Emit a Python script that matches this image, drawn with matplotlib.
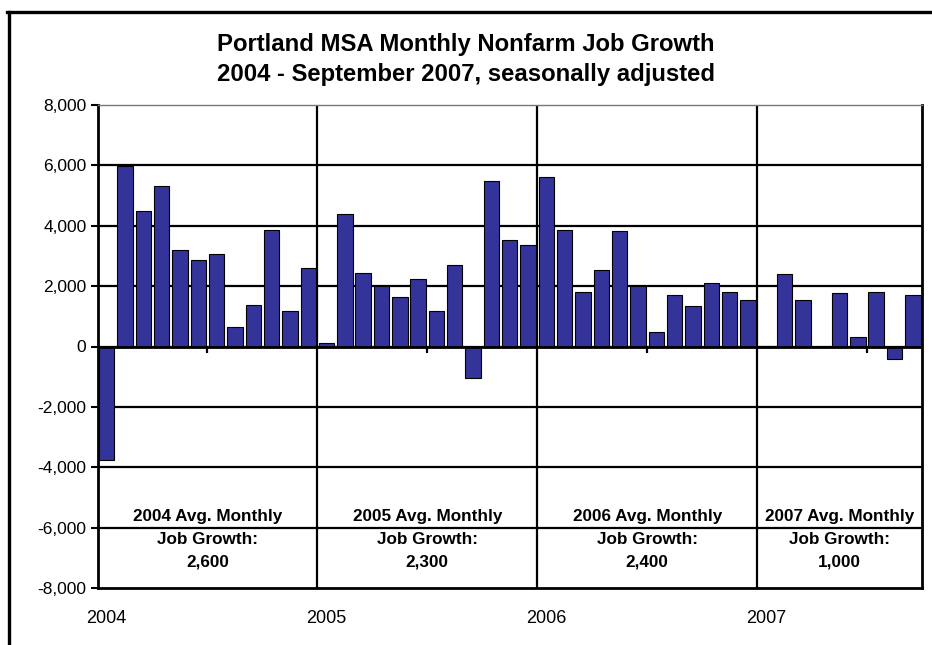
import matplotlib
matplotlib.use("Agg")
import matplotlib.pyplot as plt
from matplotlib.lines import Line2D
import numpy as np

plt.rcParams['font.family'] = ['Liberation Sans', 'DejaVu Sans']

years = ["2004", "2005", "2006", "2007"]
growth_2004 = [-3770, 5990, 4490, 5330, 3190, 2860, 3060, 650, 1390, 3860, 1190, 2590]
growth_2005 = [120, 4390, 2440, 2000, 1640, 2230, 1180, 2710, -1040, 5490, 3530, 3360]
growth_2006 = [5600, 3850, 1820, 2520, 3810, 2010, 490, 1700, 1330, 2120, 1810, 1530]
growth_2007 = [30, 2400, 1540, 0, 1770, 300, 1810, -420, 1710]
avg_labels = ["2,600", "2,300", "2,400", "1,000"]
yticks = [-8000, -6000, -4000, -2000, 0, 2000, 4000, 6000, 8000]

series = [growth_2004, growth_2005, growth_2006, growth_2007]
values = [v for s in series for v in s]
n = len(values)
x = np.arange(n)

fig = plt.figure(figsize=(9.32, 6.45), dpi=100)
ax = fig.add_axes([97.5/932, 1 - 588/645, (922 - 97.5)/932, (588 - 105)/645])

ax.set_xlim(-0.5, n - 0.5)
ax.set_ylim(-8000, 8000)

# gridlines
for yv in yticks[1:-1]:
    ax.axhline(yv, color='black', lw=1.6, zorder=1)

# year boundaries
starts = np.cumsum([0] + [len(s) for s in series])
for b in starts[1:-1]:
    ax.axvline(b - 0.5, color='black', lw=1.6, zorder=1)

ax.bar(x, values, width=0.84, color='#333399', edgecolor='black', linewidth=0.8, zorder=3)
ax.axhline(0, color='black', lw=2, zorder=4)

# small tick marks on the zero line at mid-year
for s0 in starts[:-1]:
    mid = s0 + 5.5
    if mid < n:
        ax.plot([mid, mid], [0, -200], color='black', lw=1.6, zorder=4, solid_capstyle='butt')

# table text
for i, (yr, lab) in enumerate(zip(years, avg_labels)):
    cx = (starts[i] - 0.5 + starts[i + 1] - 0.5) / 2
    ax.text(cx, -5620, f"{yr} Avg. Monthly", ha='center', va='center', fontsize=12.3, fontweight='bold', zorder=5)
    ax.text(cx, -6400, "Job Growth:", ha='center', va='center', fontsize=12.3, fontweight='bold', zorder=5)
    ax.text(cx, -7130, lab, ha='center', va='center', fontsize=12.3, fontweight='bold', zorder=5)

ax.set_yticks(yticks)
ax.set_yticklabels([f"{v:,}" for v in yticks], fontsize=12.5)
ax.tick_params(axis='y', direction='out', length=5, width=1.5, color='black', pad=3)

ax.set_xticks(starts[:-1])
ax.set_xticklabels(years, fontsize=13)
ax.tick_params(axis='x', length=0, pad=16)

for side in ['left', 'right', 'bottom']:
    ax.spines[side].set_color('black')
    ax.spines[side].set_linewidth(2)
ax.spines['top'].set_color('#777777')
ax.spines['top'].set_linewidth(1)

fig.text(0.5, 1 - 45/645, "Portland MSA Monthly Nonfarm Job Growth", ha='center', va='center',
         fontsize=17.2, fontweight='bold')
fig.text(0.5, 1 - 75/645, "2004 - September 2007, seasonally adjusted", ha='center', va='center',
         fontsize=17.2, fontweight='bold')

# outer frame (top and left)
fig.add_artist(Line2D([7/932, 1.0], [1 - 12/645, 1 - 12/645], transform=fig.transFigure, color='black', lw=2.4))
fig.add_artist(Line2D([9/932, 9/932], [1 - 12/645, 0.0], transform=fig.transFigure, color='black', lw=2.4))

fig.savefig("out.png", dpi=100)
